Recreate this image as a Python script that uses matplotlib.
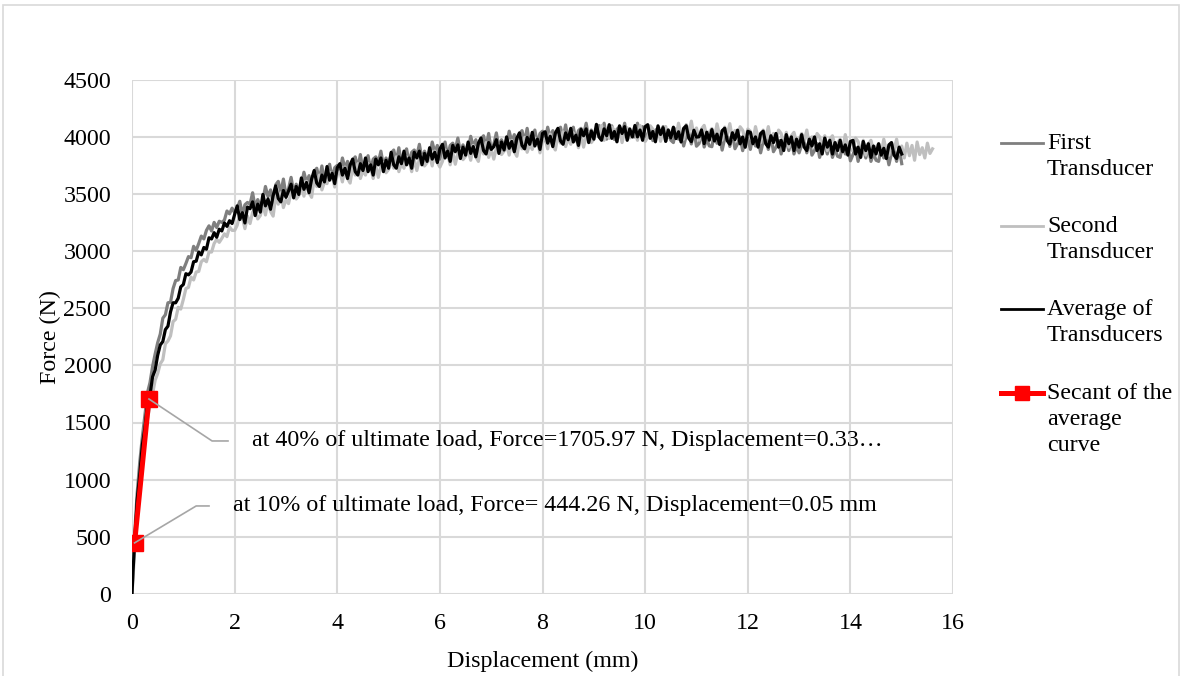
import matplotlib
matplotlib.use('Agg')
import matplotlib.pyplot as plt
from matplotlib.lines import Line2D
from matplotlib.patches import Rectangle

plt.rcParams['font.family'] = ['Liberation Serif', 'DejaVu Serif']

# displacement readings (mm) shared by the three transducer curves
disp = [0, 0.02, 0.05, 0.1, 0.15, 0.2, 0.25, 0.3, 0.35, 0.4, 0.45, 0.5,
        0.55, 0.6, 0.65, 0.7, 0.75, 0.8, 0.85, 0.9, 0.95, 1.0,
        1.05, 1.1, 1.15, 1.2, 1.25, 1.3, 1.35, 1.4, 1.45, 1.5,
        1.55, 1.6, 1.65, 1.7, 1.75, 1.8, 1.85, 1.9, 1.95, 2.0,
        2.05, 2.1, 2.15, 2.2, 2.25, 2.3, 2.35, 2.4, 2.45, 2.5,
        2.55, 2.6, 2.65, 2.7, 2.75, 2.8, 2.85, 2.9, 2.95, 3.0,
        3.05, 3.1, 3.15, 3.2, 3.25, 3.3, 3.35, 3.4, 3.45, 3.5,
        3.55, 3.6, 3.65, 3.7, 3.75, 3.8, 3.85, 3.9, 3.95, 4.0,
        4.05, 4.1, 4.15, 4.2, 4.25, 4.3, 4.35, 4.4, 4.45, 4.5,
        4.55, 4.6, 4.65, 4.7, 4.75, 4.8, 4.85, 4.9, 4.95, 5.0,
        5.05, 5.1, 5.15, 5.2, 5.25, 5.3, 5.35, 5.4, 5.45, 5.5,
        5.55, 5.6, 5.65, 5.7, 5.75, 5.8, 5.85, 5.9, 5.95, 6.0,
        6.05, 6.1, 6.15, 6.2, 6.25, 6.3, 6.35, 6.4, 6.45, 6.5,
        6.55, 6.6, 6.65, 6.7, 6.75, 6.8, 6.85, 6.9, 6.95, 7.0,
        7.05, 7.1, 7.15, 7.2, 7.25, 7.3, 7.35, 7.4, 7.45, 7.5,
        7.55, 7.6, 7.65, 7.7, 7.75, 7.8, 7.85, 7.9, 7.95, 8.0,
        8.05, 8.1, 8.15, 8.2, 8.25, 8.3, 8.35, 8.4, 8.45, 8.5,
        8.55, 8.6, 8.65, 8.7, 8.75, 8.8, 8.85, 8.9, 8.95, 9.0,
        9.05, 9.1, 9.15, 9.2, 9.25, 9.3, 9.35, 9.4, 9.45, 9.5,
        9.55, 9.6, 9.65, 9.7, 9.75, 9.8, 9.85, 9.9, 9.95, 10.0,
        10.05, 10.1, 10.15, 10.2, 10.25, 10.3, 10.35, 10.4, 10.45, 10.5,
        10.55, 10.6, 10.65, 10.7, 10.75, 10.8, 10.85, 10.9, 10.95, 11.0,
        11.05, 11.1, 11.15, 11.2, 11.25, 11.3, 11.35, 11.4, 11.45, 11.5,
        11.55, 11.6, 11.65, 11.7, 11.75, 11.8, 11.85, 11.9, 11.95, 12.0,
        12.05, 12.1, 12.15, 12.2, 12.25, 12.3, 12.35, 12.4, 12.45, 12.5,
        12.55, 12.6, 12.65, 12.7, 12.75, 12.8, 12.85, 12.9, 12.95, 13.0,
        13.05, 13.1, 13.15, 13.2, 13.25, 13.3, 13.35, 13.4, 13.45, 13.5,
        13.55, 13.6, 13.65, 13.7, 13.75, 13.8, 13.85, 13.9, 13.95, 14.0,
        14.05, 14.1, 14.15, 14.2, 14.25, 14.3, 14.35, 14.4, 14.45, 14.5,
        14.55, 14.6, 14.65, 14.7, 14.75, 14.8, 14.85, 14.9, 14.95, 15.0]
# the second transducer keeps recording a bit longer
disp_tail = [15.05, 15.1, 15.15, 15.2, 15.25, 15.3, 15.35, 15.4, 15.45, 15.5, 15.55, 15.6]

force_first = [0, 260, 520, 880, 1150, 1370, 1560, 1760, 1850, 1990, 2100, 2200,
               2275, 2415, 2445, 2550, 2555, 2675, 2745, 2750, 2860, 2840,
               2895, 2955, 2945, 3045, 3010, 3070, 3135, 3110, 3185, 3225,
               3180, 3255, 3210, 3265, 3255, 3275, 3355, 3330, 3380, 3340,
               3380, 3440, 3320, 3410, 3430, 3415, 3515, 3385, 3455, 3395,
               3450, 3570, 3480, 3540, 3420, 3585, 3615, 3515, 3635, 3495,
               3550, 3650, 3520, 3590, 3530, 3575, 3695, 3605, 3665, 3545,
               3700, 3730, 3630, 3750, 3610, 3705, 3765, 3645, 3735, 3755,
               3700, 3820, 3730, 3790, 3670, 3800, 3830, 3730, 3850, 3710,
               3780, 3840, 3720, 3810, 3830, 3780, 3880, 3750, 3820, 3760,
               3860, 3890, 3790, 3910, 3770, 3840, 3900, 3780, 3870, 3890,
               3840, 3940, 3810, 3880, 3820, 3840, 3960, 3870, 3930, 3810,
               3900, 3960, 3840, 3930, 3950, 3895, 3995, 3865, 3935, 3875,
               3890, 4010, 3920, 3980, 3860, 3985, 4015, 3915, 4035, 3895,
               3940, 4040, 3910, 3980, 3920, 3935, 4055, 3965, 4025, 3905,
               4030, 4060, 3960, 4080, 3940, 4005, 4065, 3945, 4035, 4055,
               3970, 4090, 4000, 4060, 3940, 4060, 4090, 3990, 4110, 3970,
               4030, 4090, 3970, 4060, 4080, 4025, 4125, 3995, 4065, 4005,
               4075, 4105, 4005, 4125, 3985, 4042, 4102, 3982, 4072, 4092,
               4025, 4125, 3995, 4065, 4005, 4005, 4125, 4035, 4095, 3975,
               4032, 4092, 3972, 4062, 4082, 3996, 4096, 3966, 4036, 3976,
               3955, 4075, 3985, 4045, 3925, 4013, 4043, 3943, 4063, 3923,
               3946, 4046, 3916, 3986, 3926, 3919, 4039, 3949, 4009, 3889,
               3991, 4021, 3921, 4041, 3901, 3944, 4004, 3884, 3974, 3994,
               3895, 4015, 3925, 3985, 3865, 3965, 3995, 3895, 4015, 3875,
               3915, 3975, 3855, 3945, 3965, 3885, 3985, 3855, 3925, 3865,
               3935, 3965, 3865, 3985, 3845, 3885, 3945, 3825, 3915, 3935,
               3855, 3955, 3825, 3895, 3835, 3825, 3945, 3855, 3915, 3795,
               3850, 3910, 3790, 3880, 3900, 3820, 3920, 3790, 3860, 3800,
               3790, 3910, 3820, 3880, 3760, 3860, 3890, 3790, 3910, 3770]

force_second = [0, 140, 380, 700, 980, 1170, 1380, 1530, 1650, 1750, 1870, 1930,
                2015, 2050, 2190, 2215, 2260, 2385, 2405, 2510, 2495, 2580,
                2675, 2685, 2775, 2750, 2820, 2825, 2910, 2930, 2910, 2995,
                2995, 3070, 3105, 3080, 3115, 3155, 3130, 3215, 3185, 3185,
                3230, 3330, 3300, 3200, 3310, 3245, 3345, 3375, 3285, 3315,
                3410, 3320, 3450, 3350, 3310, 3485, 3415, 3515, 3385, 3455,
                3420, 3520, 3550, 3460, 3490, 3575, 3485, 3615, 3515, 3475,
                3640, 3570, 3670, 3540, 3610, 3595, 3695, 3665, 3565, 3675,
                3700, 3610, 3740, 3640, 3600, 3740, 3670, 3770, 3640, 3710,
                3670, 3770, 3740, 3640, 3750, 3650, 3750, 3780, 3690, 3720,
                3800, 3730, 3830, 3700, 3770, 3730, 3830, 3800, 3700, 3810,
                3710, 3810, 3840, 3750, 3780, 3840, 3750, 3880, 3780, 3740,
                3790, 3890, 3860, 3760, 3870, 3765, 3865, 3895, 3805, 3835,
                3890, 3800, 3930, 3830, 3790, 3925, 3855, 3955, 3825, 3895,
                3810, 3910, 3940, 3850, 3880, 3935, 3845, 3975, 3875, 3835,
                3970, 3900, 4000, 3870, 3940, 3895, 3995, 3965, 3865, 3975,
                3990, 3900, 4030, 3930, 3890, 4020, 3950, 4050, 3920, 3990,
                3940, 4040, 4010, 3910, 4020, 3915, 4015, 4045, 3955, 3985,
                4075, 4005, 4105, 3975, 4045, 3992, 4092, 4062, 3962, 4072,
                3955, 4055, 4085, 3995, 4025, 4065, 3975, 4105, 4005, 3965,
                4002, 4102, 4072, 3972, 4082, 3966, 4066, 4096, 4006, 4036,
                4085, 3995, 4125, 4025, 3985, 4113, 4043, 4143, 4013, 4083,
                3976, 4076, 4106, 4016, 4046, 4079, 3989, 4119, 4019, 3979,
                4091, 4021, 4121, 3991, 4061, 3994, 4094, 4064, 3964, 4074,
                4055, 3965, 4095, 3995, 3955, 4065, 3995, 4095, 3965, 4035,
                3965, 4065, 4035, 3935, 4045, 3915, 4015, 4045, 3955, 3985,
                4035, 3965, 4065, 3935, 4005, 3935, 4035, 4005, 3905, 4015,
                3885, 3985, 4015, 3925, 3955, 3985, 3895, 4025, 3925, 3885,
                3895, 3995, 3965, 3865, 3975, 3845, 3945, 3975, 3885, 3915,
                3945, 3855, 3985, 3885, 3845, 3955, 3885, 3985, 3855, 3925,
                3820, 3950, 3840, 3930, 3800, 3960, 3850, 3910, 3820, 3950, 3860, 3900]

force_avg = [0, 200, 430, 820, 1040, 1300, 1450, 1660, 1740, 1900, 1960, 2090,
             2180, 2210, 2315, 2345, 2470, 2550, 2550, 2590, 2690, 2710,
             2805, 2795, 2820, 2910, 2915, 2995, 2970, 3035, 3020, 3120,
             3110, 3165, 3125, 3195, 3180, 3250, 3220, 3270, 3245, 3325,
             3400, 3280, 3340, 3250, 3390, 3375, 3435, 3315, 3415, 3345,
             3500, 3400, 3460, 3370, 3490, 3575, 3465, 3435, 3535, 3475,
             3530, 3590, 3470, 3570, 3500, 3645, 3545, 3605, 3515, 3635,
             3710, 3600, 3570, 3670, 3610, 3745, 3625, 3685, 3595, 3735,
             3770, 3670, 3730, 3640, 3760, 3810, 3700, 3670, 3770, 3710,
             3820, 3700, 3760, 3670, 3810, 3760, 3820, 3700, 3800, 3730,
             3870, 3760, 3730, 3830, 3770, 3880, 3760, 3820, 3730, 3870,
             3820, 3880, 3760, 3860, 3790, 3910, 3810, 3870, 3780, 3900,
             3940, 3820, 3880, 3790, 3930, 3875, 3935, 3815, 3915, 3845,
             3960, 3860, 3920, 3830, 3950, 3995, 3885, 3855, 3955, 3895,
             3920, 3980, 3860, 3960, 3890, 4005, 3905, 3965, 3875, 3995,
             4040, 3930, 3900, 4000, 3940, 4045, 3925, 3985, 3895, 4035,
             4050, 3950, 4010, 3920, 4040, 4080, 3970, 3940, 4040, 3980,
             4080, 3960, 4020, 3930, 4070, 4015, 4075, 3955, 4055, 3985,
             4115, 4005, 3975, 4075, 4015, 4112, 3992, 4052, 3962, 4102,
             4035, 4095, 3975, 4075, 4005, 4105, 4005, 4065, 3975, 4095,
             4112, 3992, 4052, 3962, 4102, 4026, 4086, 3966, 4066, 3996,
             4090, 3990, 4050, 3960, 4080, 4103, 3993, 3963, 4063, 4003,
             4006, 4066, 3946, 4046, 3976, 4069, 3969, 4029, 3939, 4059,
             4081, 3971, 3941, 4041, 3981, 4064, 3944, 4004, 3914, 4054,
             4045, 3945, 4005, 3915, 4035, 4055, 3945, 3915, 4015, 3955,
             4035, 3915, 3975, 3885, 4025, 3945, 4005, 3885, 3985, 3915,
             4025, 3915, 3885, 3985, 3925, 4005, 3885, 3945, 3855, 3995,
             3915, 3975, 3855, 3955, 3885, 3975, 3875, 3935, 3845, 3965,
             3975, 3855, 3915, 3825, 3965, 3885, 3945, 3825, 3925, 3855,
             3945, 3845, 3905, 3815, 3935, 3955, 3845, 3815, 3915, 3855]

# secant points at 10% and 40% of ultimate load
secant_disp = [0.05, 0.33]
secant_force = [444.26, 1705.97]
secant_labels = ["at 10% of ultimate load, Force= 444.26 N, Displacement=0.05 mm",
                 "at 40% of ultimate load, Force=1705.97 N, Displacement=0.33\u2026"]

x_ticks = [0, 2, 4, 6, 8, 10, 12, 14, 16]
y_ticks = [0, 500, 1000, 1500, 2000, 2500, 3000, 3500, 4000, 4500]

legend_labels = ["First\nTransducer", "Second\nTransducer", "Average of\nTransducers",
                 "Secant of the\naverage\ncurve"]

C_FIRST, C_SECOND, C_AVG, C_SEC = "#7F7F7F", "#BFBFBF", "#000000", "#FF0000"
GRID, LEADER, TXT = "#D9D9D9", "#A6A6A6", "#000000"
FS = 17.3

fig = plt.figure(figsize=(11.82, 6.76), dpi=100, facecolor="white")
ax = fig.add_axes([0.1117, 0.122, 0.6946, 0.759])

ax.plot(disp, force_first, color=C_FIRST, lw=2.3, zorder=2)
ax.plot(disp + disp_tail, force_second, color=C_SECOND, lw=2.3, zorder=3)
ax.plot(disp, force_avg, color=C_AVG, lw=2.3, zorder=4)
ax.plot(secant_disp, secant_force, color=C_SEC, lw=3.6, marker='s', markersize=11,
        zorder=5)

# leader lines + labels for the secant points (data units)
lead = [((0.05, 444.26), (1.25, 768), (1.50, 768), 1.97),
        ((0.33, 1705.97), (1.56, 1338), (1.87, 1338), 2.34)]
for (p0, p1, p2, tx), lab in zip(lead, secant_labels):
    ax.plot([p0[0], p1[0], p2[0]], [p0[1], p1[1], p2[1]], color=LEADER, lw=1.2,
            zorder=6)
    ax.text(tx, p2[1], lab, fontsize=FS, va='center', ha='left', color=TXT)

ax.set_xlim(0, 16)
ax.set_ylim(0, 4500)
ax.set_xticks(x_ticks)
ax.set_yticks(y_ticks)
ax.grid(True, color=GRID, lw=1.5)
ax.set_axisbelow(True)
for s in ax.spines.values():
    s.set_visible(False)
ax.tick_params(length=0, labelsize=FS, colors=TXT)
ax.tick_params(axis='y', pad=15)
ax.tick_params(axis='x', pad=14)
ax.set_xlabel("Displacement (mm)", fontsize=FS, labelpad=12)
ax.set_ylabel("Force (N)", fontsize=FS, labelpad=2)

# legend drawn by hand so each handle sits beside the first text line
W, H = 1182.0, 676.0
leg_y = [143, 226, 309, 393]
leg_col = [C_FIRST, C_SECOND, C_AVG, C_SEC]
for yy, col, lab in zip(leg_y, leg_col, legend_labels):
    lw = 3.6 if col == C_SEC else 2.0
    fig.add_artist(Line2D([1001 / W, 1043 / W], [1 - yy / H, 1 - yy / H], color=col, lw=lw))
    if col == C_SEC:
        fig.add_artist(Line2D([1022 / W], [1 - yy / H], color=col, marker='s',
                              markersize=10))
    fig.text(1047 / W, 1 - (yy - 10) / H, lab, fontsize=FS, va='top', ha='left',
             color=TXT, linespacing=1.3)

fig.add_artist(Rectangle((3 / W, -0.01), 1176 / W, 1 - 5 / H + 0.01, fill=False,
                         edgecolor="#D9D9D9", lw=1.2, transform=fig.transFigure))

fig.savefig("out.png", dpi=100, facecolor="white")
